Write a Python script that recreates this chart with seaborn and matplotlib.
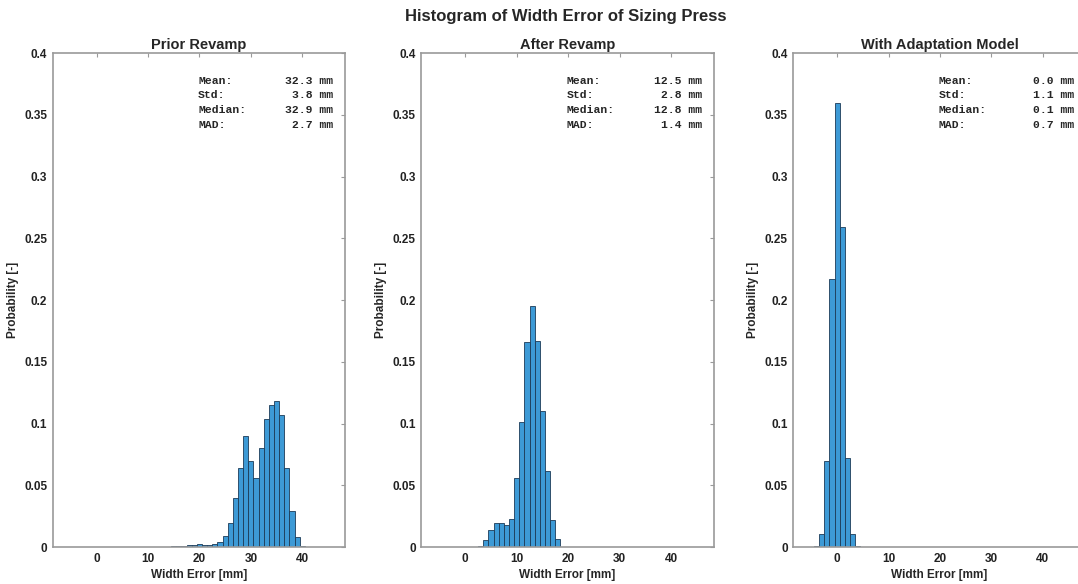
import numpy as np
import pandas as pd
import matplotlib
matplotlib.use("Agg")
import matplotlib.pyplot as plt
import seaborn as sns
from matplotlib.ticker import FuncFormatter

# datos (probabilidad por bin de 1 mm, centrado en enteros)
prior_centers = list(range(14, 41))
prior_prob = [0.0005, 0.001, 0.001, 0.001, 0.0015, 0.002, 0.003, 0.002, 0.002, 0.003,
              0.004, 0.009, 0.020, 0.040, 0.064, 0.090, 0.070, 0.056, 0.080, 0.104,
              0.115, 0.118, 0.107, 0.064, 0.029, 0.008, 0.001]

after_centers = list(range(3, 19))
after_prob = [0.001, 0.006, 0.014, 0.020, 0.020, 0.018, 0.023, 0.056, 0.101, 0.166,
              0.195, 0.167, 0.110, 0.062, 0.022, 0.007]

adapt_centers = list(range(-4, 5))
adapt_prob = [0.001, 0.011, 0.070, 0.217, 0.360, 0.259, 0.072, 0.011, 0.001]

titles = ['Prior Revamp', 'After Revamp', 'With Adaptation Model']
stats_labels = ['Mean:', 'Std:', 'Median:', 'MAD:']
stats_values = [
    ['32.3 mm', '3.8 mm', '32.9 mm', '2.7 mm'],
    ['12.5 mm', '2.8 mm', '12.8 mm', '1.4 mm'],
    ['0.0 mm', '1.1 mm', '0.1 mm', '0.7 mm'],
]

panels = [(prior_centers, prior_prob), (after_centers, after_prob), (adapt_centers, adapt_prob)]

sns.set_theme(style="white")
plt.rcParams['font.family'] = ['Liberation Sans', 'DejaVu Sans']
plt.rcParams['font.weight'] = 'bold'

fig = plt.figure(figsize=(10.78, 5.84), dpi=100)
lefts = [0.049, 0.391, 0.736]
axis_grey = '#9a9a9a'

for i, (centers, probs) in enumerate(panels):
    ax = fig.add_axes([lefts[i], 0.063, 0.271, 0.846])
    df = pd.DataFrame({'err': centers, 'p': probs})
    sns.histplot(data=df, x='err', weights='p', discrete=True, stat='count',
                 color='#3d9ad6', edgecolor='#1c3b57', linewidth=0.6, alpha=1.0, ax=ax)

    ax.set_xlim(-8.5, 48.3)
    ax.set_ylim(0, 0.4)
    ax.set_xticks([0, 10, 20, 30, 40])
    ax.set_yticks(np.arange(0, 0.401, 0.05))
    ax.yaxis.set_major_formatter(FuncFormatter(lambda v, pos: '%g' % round(v, 2)))
    ax.tick_params(direction='in', length=3, width=0.8, color=axis_grey,
                   top=True, right=True, labelsize=8.5, labelcolor='#222222', pad=4)
    for lab in ax.get_xticklabels() + ax.get_yticklabels():
        lab.set_fontweight('bold')
    for sp in ax.spines.values():
        sp.set_color(axis_grey)
        sp.set_linewidth(1.2)

    ax.set_xlabel('Width Error [mm]', fontsize=8.5, fontweight='bold', labelpad=3)
    ax.set_ylabel('Probability [-]', fontsize=8.5, fontweight='bold', labelpad=4)
    ax.set_title(titles[i], fontsize=10.5, fontweight='bold', pad=3)

    for j in range(4):
        y = 0.944 - j * 0.0295
        ax.text(0.497, y, stats_labels[j], transform=ax.transAxes, ha='left', va='center',
                family='Liberation Mono', fontsize=8.2, fontweight='bold')
        ax.text(0.96, y, stats_values[i][j], transform=ax.transAxes, ha='right', va='center',
                family='Liberation Mono', fontsize=8.2, fontweight='bold')

fig.suptitle('Histogram of Width Error of Sizing Press', x=0.525, y=0.985,
             fontsize=12, fontweight='bold')

fig.savefig('out.png', dpi=100)
